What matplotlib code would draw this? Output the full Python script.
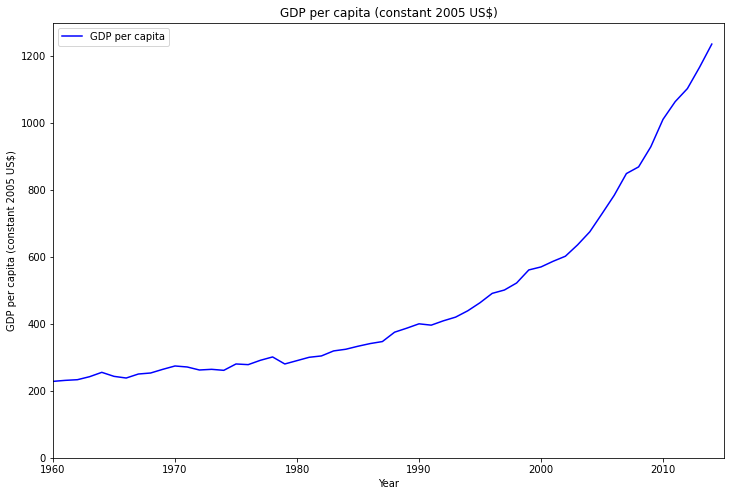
import matplotlib
matplotlib.use("Agg")
import matplotlib.pyplot as plt

years = list(range(1960, 2015))
gdp_per_capita = [
    229, 232, 234, 243, 256, 244, 239, 251, 254, 265,
    275, 272, 263, 265, 262, 281, 279, 292, 302, 281,
    291, 301, 305, 320, 325, 334, 342, 348, 376, 388,
    401, 397, 410, 421, 440, 464, 492, 502, 523, 562,
    571, 588, 603, 637, 676, 730, 785, 850, 870, 930,
    1012, 1065, 1104, 1168, 1237,
]

W, H, DPI = 733, 496, 72
fig = plt.figure(figsize=(W / DPI, H / DPI), dpi=DPI)
ax = fig.add_axes([53 / W, 1 - 458 / H, (724 - 53) / W, (458 - 23) / H])

ax.plot(years, gdp_per_capita, color="blue", label="GDP per capita")
ax.set_xlim(1960, 2015)
ax.set_ylim(0, 1300)
ax.set_xticks([1960, 1970, 1980, 1990, 2000, 2010])
ax.set_title("GDP per capita (constant 2005 US$)")
ax.set_xlabel("Year")
ax.set_ylabel("GDP per capita (constant 2005 US$)")
ax.legend(loc="upper left")

fig.savefig("out.png", dpi=DPI)
